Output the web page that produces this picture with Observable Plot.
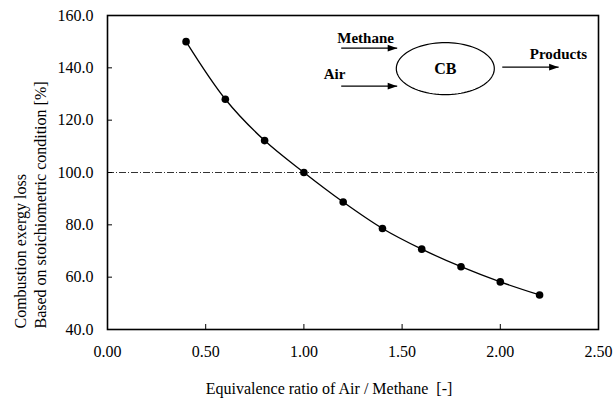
<!DOCTYPE html>
<html>
<head>
<meta charset="utf-8">
<script src="https://cdn.jsdelivr.net/npm/d3@7"></script>
<script src="https://cdn.jsdelivr.net/npm/@observablehq/plot@0.6"></script>
<style>
  html, body { margin: 0; padding: 0; background: #fff; }
  #chart svg, #chart svg text, #chart svg tspan { font-family: "Liberation Serif", "Times New Roman", serif !important; }
</style>
</head>
<body>
<div id="chart"></div>
<script>
// ---- data ----
const ratio = [0.4, 0.6, 0.8, 1.0, 1.2, 1.4, 1.6, 1.8, 2.0, 2.2];
const exergyLoss = [150.0, 128.0, 112.2, 100.0, 88.7, 78.6, 70.7, 64.0, 58.2, 53.2];
const xTicks = [0, 0.5, 1.0, 1.5, 2.0, 2.5];
const yTicks = [40, 60, 80, 100, 120, 140, 160];
const referenceLevel = [100];
const yTitle = ["Combustion exergy loss", "Based on stoichiometric condition [%]"];
const xTitle = "Equivalence ratio of Air / Methane\u00a0\u00a0[-]";
const diagramLabels = ["Methane", "Air", "CB", "Products"];

const points = ratio.map((r, i) => ({ratio: r, loss: exergyLoss[i]}));
const serif = '"Liberation Serif", "Times New Roman", serif';

// ---- diagram annotation (in data units) ----
const labelPos = [
  {text: diagramLabels[0], x: 1.314, y: 151.5, size: 15},
  {text: diagramLabels[1], x: 1.156, y: 137.5, size: 15},
  {text: diagramLabels[2], x: 1.72, y: 139.7, size: 16},
  {text: diagramLabels[3], x: 2.296, y: 145.4, size: 15}
];
const arrows = [
  {x1: 1.19, x2: 1.475, y: 147.5},
  {x1: 1.19, x2: 1.475, y: 133.0},
  {x1: 2.01, x2: 2.297, y: 140.25}
];
const headSymbol = {
  draw(ctx) { ctx.moveTo(0, 0); ctx.lineTo(-9.5, -3.4); ctx.lineTo(-9.5, 3.4); ctx.closePath(); }
};
const ellipseSymbol = {
  draw(ctx) {
    const rx = 49, ry = 26, n = 96;
    for (let i = 0; i <= n; i++) {
      const a = (i / n) * 2 * Math.PI;
      const px = rx * Math.cos(a), py = ry * Math.sin(a);
      if (i === 0) ctx.moveTo(px, py); else ctx.lineTo(px, py);
    }
    ctx.closePath();
  }
};

const chart = Plot.plot({
  width: 613,
  height: 400,
  marginLeft: 107,
  marginRight: 15,
  marginTop: 15,
  marginBottom: 71,
  style: {fontFamily: serif, background: "#fff"},
  x: {domain: [0, 2.5]},
  y: {domain: [40, 160]},
  marks: [
    Plot.ruleY(referenceLevel, {stroke: "#333", strokeWidth: 1, strokeDasharray: "7,2,1,2"}),
    Plot.axisX(xTicks, {tickSize: -5, tickPadding: 21, tickFormat: d => d.toFixed(2), fontSize: 16, fontFamily: serif, fill: "black", stroke: "black", label: null}),
    Plot.axisY(yTicks, {tickSize: -5, tickPadding: 19, tickFormat: d => d.toFixed(1), fontSize: 16, fontFamily: serif, fill: "black", stroke: "black", label: null}),
    Plot.frame({stroke: "black", strokeWidth: 1.6}),
    Plot.line(points, {x: "ratio", y: "loss", curve: "catmull-rom", stroke: "black", strokeWidth: 1.3}),
    Plot.dot(points, {x: "ratio", y: "loss", r: 3.8, fill: "black", stroke: "none"}),
    // diagram
    Plot.dot([labelPos[2]], {x: "x", y: "y", symbol: ellipseSymbol, r: 10, fill: "none", stroke: "black", strokeWidth: 1.2}),
    Plot.link(arrows, {x1: "x1", x2: "x2", y1: "y", y2: "y", stroke: "black", strokeWidth: 1.3}),
    Plot.dot(arrows, {x: "x2", y: "y", symbol: headSymbol, r: 5, fill: "black", stroke: "none"}),
    Plot.text(labelPos, {x: "x", y: "y", text: "text", fontSize: "size", fontWeight: "bold", fontFamily: serif, fill: "black", lineAnchor: "middle"}),
    // axis titles
    Plot.text([yTitle.join("\n")], {frameAnchor: "bottom-left", dx: -78, dy: -1, rotate: -90, textAnchor: "start", lineAnchor: "middle", lineHeight: 1.25, fontSize: 16, fontFamily: serif, fill: "black"}),
    Plot.text([xTitle], {frameAnchor: "bottom", dx: -24, dy: 59.5, lineAnchor: "middle", fontSize: 16, fontFamily: serif, fill: "black"})
  ]
});
document.getElementById("chart").appendChild(chart);
</script>
</body>
</html>
